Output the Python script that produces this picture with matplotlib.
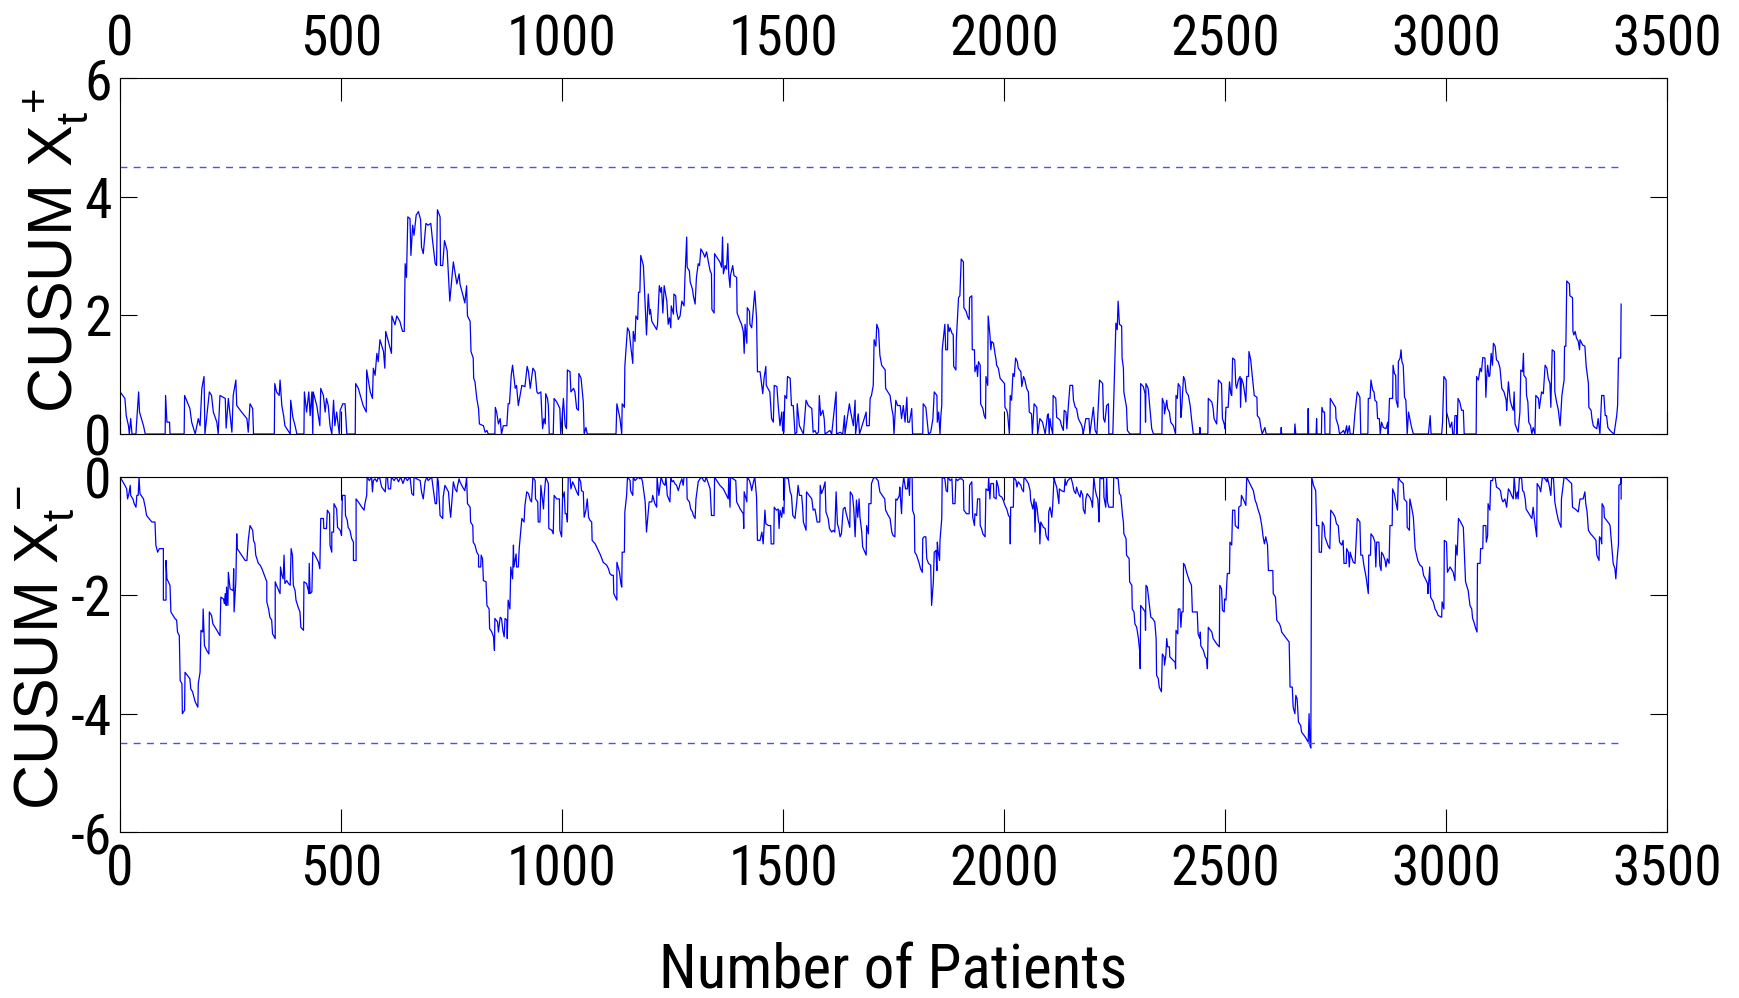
import numpy as np
import matplotlib
matplotlib.use("Agg")
import matplotlib.pyplot as plt

plt.rcParams['font.family'] = ['Roboto Condensed', 'Liberation Sans', 'DejaVu Sans']
plt.rcParams['axes.unicode_minus'] = False
plt.rcParams['mathtext.fontset'] = 'custom'
plt.rcParams['mathtext.rm'] = 'Liberation Sans'
plt.rcParams['mathtext.it'] = 'Liberation Sans'
plt.rcParams['mathtext.bf'] = 'Liberation Sans:bold'

# upper CUSUM (patient number, value)
upper_points = [
    (0, 0.71), (11, 0.60), (14, 0.31), (19, 0.14), (21, 0), (24, 0.26), (27, 0), (36, 0), (37, 0.14),
    (42, 0.71), (44, 0.37), (53, 0.14), (57, 0), (102, 0), (103, 0.65), (106, 0.2), (112, 0.2), (113, 0),
    (145, 0), (146, 0.65), (158, 0.43), (162, 0.2), (170, 0), (177, 0.26), (181, 0.14), (185, 0.77),
    (190, 0.97), (192, 0), (202, 0.71), (207, 0.65), (211, 0.37), (219, 0.2), (222, 0), (226, 0.65),
    (238, 0.60), (240, 0.1), (245, 0.6), (253, 0.03), (256, 0.65), (262, 0.91), (264, 0.48), (275, 0.37),
    (287, 0.26), (290, 0.03), (294, 0.51), (300, 0.43), (302, 0), (349, 0), (350, 0.85), (354, 0.71),
    (360, 0.65), (362, 0.91), (366, 0.48), (370, 0.31), (373, 0.14), (385, 0), (386, 0.57), (391, 0.28),
    (396, 0.14), (400, 0), (416, 0), (417, 0.71), (422, 0.37), (427, 0.71), (430, 0.31), (434, 0.71),
    (436, 0), (437, 0.71), (445, 0.48), (452, 0.14), (454, 0.77), (460, 0.65), (464, 0.37), (467, 0.6),
    (471, 0.48), (475, 0.14), (479, 0), (483, 0.57), (486, 0.14), (490, 0.37), (496, 0), (498, 0.40),
    (504, 0.51), (509, 0.51), (513, 0), (532, 0), (533, 0.85), (539, 0.77), (550, 0.48), (557, 0.37),
    (558, 1.08), (566, 0.71), (571, 0.6), (573, 1.11), (577, 0.99), (581, 1.36), (584, 1.22), (588, 1.59),
    (596, 1.39), (599, 1.11), (601, 1.73), (614, 1.36), (615, 1.99), (622, 1.84), (626, 1.99), (633, 1.90),
    (639, 1.73), (643, 1.73), (645, 2.87), (648, 2.64), (651, 3.66), (656, 3.63), (658, 3.01), (662, 3.52),
    (665, 3.35), (670, 3.69), (675, 3.75), (680, 3.61), (682, 3.15), (686, 3.04), (692, 3.55), (697, 3.52),
    (703, 3.55), (707, 3.26), (713, 2.87), (716, 2.84), (718, 3.78), (724, 3.66), (725, 2.84), (730, 2.84),
    (734, 3.26), (740, 3.09), (746, 2.24), (754, 2.90), (762, 2.53), (767, 2.70), (769, 2.53), (775, 2.36),
    (780, 2.21), (784, 2.50), (786, 1.99), (792, 1.90), (794, 1.39), (799, 1.28), (800, 0.94), (803, 0.88),
    (807, 0.60), (811, 0.43), (813, 0.17), (822, 0.14), (826, 0.03), (830, 0.06), (833, 0), (848, 0),
    (849, 0.45), (852, 0.37), (856, 0.17), (860, 0.26), (863, 0), (867, 0.14), (875, 0.14), (878, 0.51),
    (881, 0.51), (885, 0.99), (888, 1.16), (894, 0.77), (897, 0.82), (901, 0.48), (909, 0.82), (916, 0.80),
    (921, 1.14), (924, 1.05), (928, 0.77), (934, 1.11), (939, 1.05), (943, 0.71), (946, 0.68), (952, 0.71),
    (954, 0.37), (956, 0.09), (959, 0.26), (962, 0.17), (963, 0.68), (967, 0.6), (969, 0.48), (971, 0),
    (980, 0), (982, 0.6), (988, 0.54), (995, 0.43), (997, 0), (1001, 0.37), (1003, 0.6), (1007, 0.14),
    (1010, 0.09), (1012, 1.08), (1018, 1.05), (1020, 0.71), (1026, 0.77), (1029, 0.71), (1033, 0.43),
    (1037, 0.40), (1038, 1.02), (1043, 0.94), (1048, 0.54), (1050, 0), (1054, 0.11), (1057, 0), (1122, 0),
    (1124, 0.51), (1131, 0.26), (1135, 0), (1136, 0.51), (1141, 0.45), (1142, 1.14), (1148, 1.79),
    (1152, 1.73), (1155, 1.50), (1160, 1.19), (1161, 1.73), (1165, 1.56), (1167, 1.99), (1171, 1.93),
    (1173, 2.39), (1176, 2.39), (1178, 3.01), (1184, 2.84), (1188, 2.19), (1191, 1.67), (1195, 2.36),
    (1198, 2.02), (1200, 2.10), (1203, 1.90), (1214, 1.76), (1216, 1.85), (1220, 2.50), (1223, 2.39),
    (1225, 2.47), (1228, 2.04), (1231, 2.50), (1237, 2.24), (1240, 1.85), (1243, 1.96), (1246, 1.79),
    (1247, 2.16), (1252, 2.02), (1253, 2.36), (1257, 2.33), (1259, 2.07), (1263, 1.93), (1267, 1.99),
    (1271, 2.24), (1276, 2.16), (1278, 2.64), (1282, 3.32), (1283, 2.81), (1288, 2.75), (1290, 2.56),
    (1295, 2.44), (1297, 2.33), (1301, 2.19), (1304, 2.64), (1308, 2.87), (1311, 2.84), (1314, 3.12),
    (1320, 3.04), (1323, 2.98), (1327, 3.07), (1331, 2.90), (1335, 2.75), (1338, 2.70), (1339, 2.10),
    (1344, 2.04), (1345, 3.04), (1350, 2.98), (1357, 2.90), (1361, 2.81), (1363, 3.32), (1365, 2.70),
    (1369, 2.84), (1372, 2.78), (1375, 3.21), (1377, 2.70), (1380, 2.47), (1381, 2.67), (1386, 2.84),
    (1389, 2.67), (1395, 2.64), (1396, 2.04), (1403, 1.90), (1406, 1.85), (1410, 1.73), (1412, 1.36),
    (1414, 1.85), (1418, 1.53), (1419, 2.13), (1424, 2.07), (1425, 1.85), (1429, 1.79), (1436, 2.41),
    (1440, 1.96), (1442, 1.05), (1448, 1.05), (1454, 0.68), (1457, 0.94), (1461, 1.14), (1462, 0.82),
    (1470, 0.71), (1474, 0.26), (1478, 0.20), (1480, 0.82), (1486, 0.80), (1489, 0.48), (1493, 0.14),
    (1497, 0.37), (1499, 0.06), (1502, 0.03), (1504, 0.65), (1508, 0.60), (1510, 0.97), (1516, 0.94),
    (1519, 0.48), (1523, 0.48), (1527, 0), (1531, 0.03), (1532, 0.51), (1537, 0.14), (1546, 0),
    (1552, 0.57), (1557, 0.48), (1565, 0.43), (1568, 0.03), (1572, 0.06), (1576, 0), (1580, 0.03),
    (1582, 0.65), (1585, 0.31), (1590, 0.40), (1593, 0.26), (1595, 0), (1606, 0.06), (1610, 0),
    (1620, 0.71), (1621, 0), (1629, 0.03), (1635, 0), (1639, 0.31), (1640, 0), (1650, 0.51), (1653, 0.37),
    (1659, 0.14), (1663, 0.57), (1664, 0), (1670, 0.34), (1673, 0), (1688, 0.37), (1689, 0.14),
    (1695, 0.14), (1697, 0.60), (1700, 0.65), (1704, 0.82), (1706, 1.59), (1710, 1.48), (1712, 1.85),
    (1716, 1.76), (1719, 1.33), (1723, 1.16), (1731, 1.08), (1732, 0.77), (1742, 0.65), (1746, 0.43),
    (1749, 0.31), (1751, 0), (1755, 0.57), (1759, 0.48), (1765, 0.48), (1768, 0.26), (1772, 0.48),
    (1776, 0.20), (1780, 0.62), (1782, 0.20), (1786, 0.20), (1791, 0.43), (1793, 0), (1816, 0),
    (1817, 0.51), (1823, 0.45), (1829, 0), (1834, 0.03), (1839, 0.26), (1842, 0.71), (1848, 0.65),
    (1849, 0.20), (1852, 0.37), (1855, 0), (1857, 0.31), (1859, 0.48), (1860, 1.42), (1866, 1.85),
    (1868, 1.42), (1872, 1.42), (1873, 1.85), (1876, 1.73), (1878, 1.79), (1882, 1.70), (1885, 1.67),
    (1886, 1.14), (1891, 1.08), (1892, 1.59), (1893, 1.73), (1897, 2.30), (1900, 2.33), (1903, 2.95),
    (1908, 2.90), (1909, 2.13), (1914, 2.07), (1917, 1.99), (1921, 1.93), (1922, 2.30), (1927, 2.33),
    (1928, 1.42), (1933, 1.42), (1934, 1.05), (1938, 1.16), (1940, 0.97), (1942, 1.22), (1946, 1.16),
    (1947, 0.51), (1952, 0.43), (1955, 0.31), (1958, 0.26), (1959, 0.97), (1963, 0.82), (1964, 1.99),
    (1968, 1.67), (1970, 1.42), (1972, 1.56), (1976, 1.53), (1980, 1.33), (1982, 1.25), (1983, 1.16),
    (1987, 1.11), (1991, 0.94), (2001, 0.85), (2002, 0.45), (2006, 0.40), (2008, 0.34), (2012, 0),
    (2014, 0.65), (2017, 0.57), (2020, 1.02), (2023, 0.97), (2026, 1.28), (2030, 1.22), (2032, 1.11),
    (2038, 1.05), (2040, 0.80), (2044, 0.97), (2047, 0.91), (2051, 0.77), (2055, 0.71), (2057, 0.37),
    (2062, 0.34), (2064, 0), (2068, 0.51), (2074, 0.45), (2076, 0), (2081, 0.26), (2087, 0.20), (2093, 0),
    (2098, 0.31), (2100, 0.34), (2102, 0), (2104, 0.26), (2106, 0.14), (2110, 0), (2111, 0.65),
    (2117, 0.60), (2119, 0.28), (2123, 0.26), (2127, 0.23), (2130, 0.14), (2134, 0.06), (2136, 0.40),
    (2140, 0.37), (2142, 0.09), (2145, 0.43), (2149, 0.82), (2155, 0.82), (2157, 0.57), (2161, 0.45),
    (2164, 0.43), (2168, 0.26), (2172, 0.20), (2176, 0.14), (2178, 0.06), (2179, 0), (2185, 0.26),
    (2192, 0.26), (2194, 0), (2202, 0.45), (2206, 0.06), (2210, 0), (2216, 0.91), (2223, 0.85),
    (2225, 0.26), (2228, 0.20), (2232, 0.48), (2236, 0.51), (2237, 0), (2246, 0), (2253, 1.87),
    (2256, 1.76), (2258, 2.24), (2261, 1.85), (2266, 1.82), (2267, 1.28), (2270, 1.11), (2271, 0.71),
    (2277, 0.45), (2279, 0.06), (2285, 0), (2308, 0), (2309, 0.85), (2315, 0.80), (2319, 0.68),
    (2320, 0.20), (2321, 0.85), (2326, 0.77), (2330, 0.43), (2334, 0.09), (2338, 0), (2357, 0),
    (2358, 0.60), (2362, 0.51), (2363, 0.34), (2368, 0.57), (2370, 0.43), (2374, 0.37), (2377, 0.20),
    (2383, 0.14), (2388, 0), (2389, 0.65), (2392, 0.60), (2394, 0.85), (2398, 0.80), (2400, 0.28),
    (2402, 0.45), (2406, 0.97), (2409, 0.91), (2412, 0.71), (2417, 0.65), (2421, 0.48), (2424, 0.26),
    (2428, 0), (2442, 0), (2443, 0.11), (2444, 0), (2461, 0), (2462, 0.60), (2470, 0.54), (2473, 0.43),
    (2475, 0.26), (2481, 0.17), (2485, 0.91), (2492, 0.85), (2494, 0.26), (2498, 0.17), (2500, 0.09),
    (2502, 0.45), (2507, 0.45), (2510, 0.88), (2513, 0.68), (2515, 0.65), (2517, 1.28), (2522, 1.25),
    (2524, 0.85), (2526, 0.77), (2530, 0.91), (2534, 0.97), (2535, 0.45), (2537, 0.94), (2541, 0.85),
    (2544, 0.71), (2547, 0.54), (2549, 0.97), (2553, 0.97), (2554, 1.39), (2558, 1.25), (2562, 0.94),
    (2566, 0.65), (2572, 0.62), (2573, 0.31), (2578, 0.26), (2581, 0.11), (2584, 0), (2590, 0.11),
    (2593, 0), (2626, 0), (2627, 0.11), (2628, 0), (2657, 0), (2658, 0.17), (2660, 0), (2687, 0),
    (2688, 0.43), (2689, 0), (2706, 0), (2707, 0.26), (2708, 0), (2718, 0), (2719, 0.45), (2722, 0.37),
    (2725, 0.37), (2726, 0), (2737, 0), (2738, 0.60), (2745, 0.51), (2750, 0.45), (2751, 0.26),
    (2756, 0.14), (2759, 0), (2764, 0.03), (2768, 0.06), (2771, 0), (2775, 0.14), (2777, 0), (2781, 0.14),
    (2783, 0), (2790, 0), (2794, 0.37), (2799, 0.71), (2805, 0.62), (2807, 0), (2823, 0), (2824, 0.60),
    (2828, 0.60), (2830, 0.91), (2834, 0.74), (2837, 0.71), (2839, 0.57), (2843, 0.54), (2845, 0.26),
    (2849, 0.26), (2851, 0), (2854, 0.20), (2858, 0.11), (2864, 0.09), (2868, 0.20), (2869, 0),
    (2872, 0.60), (2879, 0.60), (2880, 1.16), (2883, 1.02), (2886, 0.99), (2887, 0.57), (2891, 0.45),
    (2892, 1.22), (2896, 1.28), (2898, 1.42), (2900, 1.22), (2903, 1.16), (2906, 0.62), (2909, 0.57),
    (2912, 0), (2915, 0.37), (2918, 0.26), (2922, 0.11), (2926, 0), (2960, 0), (2964, 0.31), (2966, 0),
    (2990, 0), (2992, 0.20), (2995, 0.97), (3000, 0.91), (3001, 0.37), (3005, 0.26), (3009, 0.11),
    (3013, 0.20), (3015, 0), (3018, 0), (3020, 0.31), (3024, 0.31), (3025, 0), (3027, 0.60), (3031, 0.54),
    (3035, 0.40), (3039, 0.40), (3041, 0), (3068, 0), (3069, 0.97), (3073, 0.91), (3077, 1.11),
    (3080, 1.05), (3083, 1.29), (3088, 1.28), (3090, 0.62), (3092, 0.97), (3094, 1.16), (3097, 0.97),
    (3099, 0.99), (3102, 1.36), (3105, 1.16), (3107, 1.53), (3111, 1.48), (3114, 1.25), (3118, 1.22),
    (3122, 1.11), (3126, 0.77), (3131, 0.71), (3136, 0.57), (3137, 0.40), (3141, 0.88), (3145, 0.57),
    (3148, 0.48), (3152, 0.40), (3154, 0.71), (3156, 0.17), (3160, 0.09), (3163, 0.03), (3167, 0.37),
    (3169, 1.08), (3173, 1.05), (3175, 1.36), (3176, 0.99), (3181, 0.94), (3182, 0.65), (3185, 0.54),
    (3187, 0.20), (3191, 0.14), (3194, 0), (3197, 0.11), (3201, 0), (3203, 0.65), (3209, 0.60),
    (3211, 0.43), (3216, 0.71), (3220, 0.68), (3224, 1.16), (3228, 1.11), (3231, 0.94), (3235, 0.85),
    (3237, 0.45), (3240, 1.42), (3245, 1.39), (3246, 0.71), (3250, 0.54), (3254, 0.40), (3258, 0.14),
    (3262, 0.65), (3267, 0.91), (3268, 1.48), (3271, 1.48), (3273, 2.58), (3279, 2.53), (3280, 2.33),
    (3286, 2.30), (3287, 1.73), (3289, 1.67), (3292, 1.73), (3295, 1.62), (3299, 1.56), (3302, 1.42),
    (3303, 1.59), (3309, 1.50), (3314, 1.48), (3317, 1.14), (3322, 0.85), (3323, 0.45), (3328, 0.40),
    (3330, 0.26), (3333, 0.14), (3337, 0.11), (3341, 0.09), (3344, 0.26), (3348, 0), (3352, 0.65),
    (3357, 0.65), (3360, 0.31), (3363, 0.31), (3366, 0.11), (3371, 0.06), (3375, 0.03), (3380, 0),
    (3386, 0.31), (3388, 0.48), (3390, 1.28), (3395, 1.28), (3396, 2.19),
]

# lower CUSUM (patient number, value)
lower_points = [
    (0, 0), (11, -0.14), (15, -0.20), (17, -0.37), (20, -0.28), (23, -0.14), (24, -0.31), (29, -0.37),
    (32, -0.45), (36, -0.51), (38, -0.31), (41, -0.31), (43, 0), (45, -0.28), (53, -0.37), (57, -0.51),
    (60, -0.65), (72, -0.76), (79, -0.76), (81, -1.15), (85, -1.27), (89, -1.21), (98, -1.21), (98, -2.08),
    (104, -2.08), (104, -1.41), (106, -1.72), (113, -1.83), (115, -2.28), (124, -2.39), (128, -2.42),
    (130, -2.62), (134, -2.68), (136, -3.44), (140, -3.49), (141, -4.00), (146, -3.94), (147, -3.30),
    (152, -3.35), (158, -3.41), (160, -3.58), (164, -3.63), (170, -3.80), (176, -3.89), (177, -3.49),
    (181, -3.30), (183, -2.59), (187, -2.62), (188, -2.23), (191, -2.85), (196, -2.93), (201, -2.99),
    (202, -2.28), (207, -2.34), (210, -2.48), (219, -2.59), (226, -2.68), (228, -2.03), (234, -2.06),
    (236, -2.14), (238, -1.97), (240, -2.17), (241, -1.86), (244, -2.17), (245, -1.61), (249, -1.89),
    (256, -1.92), (257, -1.55), (258, -2.28), (262, -1.75), (264, -0.96), (265, -1.21), (275, -1.32),
    (283, -1.41), (287, -1.41), (290, -1.07), (294, -0.82), (300, -0.90), (302, -1.07), (305, -1.13),
    (307, -1.32), (313, -1.46), (317, -1.49), (321, -1.55), (324, -1.61), (328, -1.69), (332, -1.77),
    (332, -2.11), (336, -2.23), (339, -2.37), (343, -2.42), (345, -2.65), (351, -2.73), (351, -1.77),
    (354, -1.83), (362, -1.97), (363, -1.52), (366, -1.66), (369, -1.72), (371, -1.32), (373, -1.80),
    (377, -1.75), (381, -1.80), (385, -1.83), (387, -1.21), (390, -1.32), (392, -1.83), (396, -1.92),
    (398, -2.08), (403, -2.20), (407, -2.28), (409, -2.54), (415, -2.59), (416, -1.77), (422, -1.80),
    (426, -1.92), (427, -1.97), (428, -1.46), (430, -1.97), (434, -1.94), (436, -1.27), (441, -1.32),
    (449, -1.44), (452, -1.55), (454, -0.70), (460, -0.70), (461, -0.87), (467, -0.87), (469, -0.56),
    (474, -0.62), (475, -1.15), (479, -1.27), (479, -0.93), (483, -0.93), (484, -0.45), (490, -0.54),
    (492, -0.85), (498, -0.90), (501, -0.99), (503, -0.31), (509, -0.31), (510, -0.65), (514, -0.73),
    (516, -0.85), (520, -0.90), (524, -1.04), (528, -1.10), (528, -1.41), (534, -1.41), (534, -0.37),
    (539, -0.42), (547, -0.51), (552, -0.56), (554, -0.45), (558, -0.31), (559, 0), (564, -0.06),
    (569, 0), (571, -0.25), (573, -0.06), (577, -0.03), (581, -0.08), (583, -0.03), (587, 0), (590, -0.11),
    (592, -0.17), (600, -0.25), (602, 0), (605, 0), (607, -0.20), (612, -0.20), (614, 0), (620, -0.06),
    (625, 0), (630, -0.08), (635, 0), (640, -0.11), (645, 0), (650, -0.06), (656, 0), (660, -0.28),
    (664, -0.31), (665, 0), (671, -0.03), (679, -0.06), (682, -0.25), (686, -0.37), (690, -0.08),
    (694, 0), (697, -0.06), (705, 0), (709, -0.23), (713, -0.45), (716, -0.45), (718, 0), (720, -0.08),
    (724, -0.65), (730, -0.70), (731, -0.34), (735, -0.14), (743, -0.25), (746, -0.54), (748, -0.68),
    (754, -0.08), (758, -0.20), (762, -0.25), (763, -0.17), (767, -0.03), (769, -0.08), (775, -0.17),
    (780, -0.23), (783, -0.08), (784, 0), (786, -0.45), (792, -0.51), (793, -0.76), (798, -0.82),
    (799, -1.10), (803, -1.15), (807, -1.27), (811, -1.32), (811, -1.52), (816, -1.52), (817, -1.32),
    (820, -1.38), (822, -1.75), (828, -1.77), (830, -2.17), (835, -2.23), (836, -2.56), (841, -2.62),
    (845, -2.70), (847, -2.93), (848, -2.39), (854, -2.45), (856, -2.62), (860, -2.37), (863, -2.39),
    (866, -2.59), (869, -2.70), (871, -2.39), (875, -2.42), (876, -2.73), (878, -2.08), (882, -2.23),
    (884, -1.52), (888, -1.72), (890, -1.15), (891, -1.52), (896, -1.30), (897, -1.52), (901, -1.52),
    (903, -1.21), (909, -0.70), (914, -0.76), (916, -0.48), (920, -0.25), (924, -0.28), (928, -0.39),
    (931, -0.42), (934, 0), (939, -0.06), (940, -0.37), (945, -0.42), (946, -0.76), (950, -0.76),
    (952, -0.14), (958, -0.54), (959, -0.37), (963, 0), (969, -0.11), (970, -0.87), (977, -0.90),
    (980, -0.96), (982, -0.31), (988, -0.37), (994, -0.37), (995, -0.90), (999, -1.01), (1001, -0.37),
    (1005, -0.25), (1007, -0.62), (1010, -0.62), (1012, -0.76), (1014, 0), (1018, 0), (1020, -0.20),
    (1024, -0.08), (1029, -0.17), (1033, -0.25), (1037, -0.31), (1038, 0), (1042, -0.08), (1044, -0.23),
    (1048, -0.25), (1050, -0.68), (1054, -0.56), (1057, -0.37), (1060, -0.68), (1063, -0.73),
    (1067, -0.76), (1068, -1.07), (1075, -1.13), (1080, -1.21), (1084, -1.27), (1087, -1.32),
    (1090, -1.38), (1093, -1.44), (1101, -1.49), (1105, -1.55), (1108, -1.63), (1112, -1.66),
    (1116, -1.66), (1117, -1.97), (1124, -2.08), (1124, -1.44), (1130, -1.61), (1133, -1.80),
    (1135, -1.86), (1136, -1.27), (1141, -1.27), (1142, -0.59), (1146, -0.31), (1148, 0), (1154, -0.06),
    (1155, -0.23), (1160, -0.31), (1161, 0), (1165, -0.06), (1169, -0.03), (1173, 0), (1176, -0.03),
    (1179, 0), (1182, -0.08), (1188, -0.42), (1191, -0.93), (1197, -0.42), (1203, -0.42), (1205, -0.31),
    (1210, -0.45), (1214, -0.51), (1215, 0), (1219, -0.31), (1224, 0), (1229, -0.11), (1233, -0.14),
    (1235, 0), (1238, -0.31), (1244, -0.42), (1246, 0), (1249, -0.08), (1252, -0.06), (1255, -0.11),
    (1259, -0.14), (1263, -0.23), (1267, -0.11), (1271, -0.03), (1274, -0.14), (1276, 0), (1282, 0),
    (1283, -0.37), (1288, -0.42), (1291, -0.54), (1295, -0.59), (1297, -0.65), (1301, -0.70),
    (1303, -0.37), (1308, -0.08), (1312, -0.03), (1316, 0), (1320, -0.06), (1323, -0.08), (1326, 0),
    (1331, -0.11), (1335, -0.20), (1338, -0.65), (1344, -0.65), (1345, 0), (1350, -0.06), (1357, -0.14),
    (1365, -0.20), (1372, -0.31), (1376, -0.37), (1377, 0), (1380, -0.51), (1381, 0), (1387, -0.03),
    (1393, -0.06), (1395, -0.42), (1399, -0.48), (1403, -0.54), (1410, -0.62), (1411, -0.87),
    (1412, -0.25), (1418, -0.42), (1419, 0), (1424, -0.06), (1427, -0.14), (1429, -0.23), (1433, -0.08),
    (1436, 0), (1440, -0.34), (1442, -1.07), (1448, -1.07), (1452, -0.93), (1455, -1.13), (1459, -0.56),
    (1461, -0.79), (1467, -0.82), (1472, -0.82), (1473, -1.13), (1479, -1.13), (1480, -0.51),
    (1485, -0.56), (1489, -0.54), (1491, -0.87), (1493, -0.56), (1497, -0.68), (1499, -0.51),
    (1502, -0.62), (1504, 0), (1512, -0.03), (1516, -0.25), (1519, -0.31), (1522, -0.65), (1527, -0.70),
    (1531, -0.42), (1534, -0.14), (1537, -0.31), (1542, -0.31), (1544, -0.48), (1546, -0.76),
    (1552, -0.90), (1553, -0.25), (1559, -0.31), (1565, -0.37), (1568, -0.56), (1572, -0.54),
    (1574, -0.62), (1577, -0.76), (1583, -0.76), (1584, -0.14), (1587, -0.28), (1591, -0.20),
    (1595, -0.08), (1597, -0.59), (1602, -0.70), (1605, -0.87), (1610, -0.93), (1614, -0.90),
    (1617, -0.93), (1620, -0.25), (1623, -0.79), (1626, -0.87), (1629, -1.01), (1632, -0.96),
    (1636, -0.54), (1640, -0.51), (1642, -0.59), (1648, -0.76), (1651, -0.85), (1652, -0.25),
    (1657, -0.31), (1660, -0.54), (1663, -1.01), (1666, -0.39), (1669, -0.68), (1672, -0.37),
    (1674, -0.68), (1678, -0.93), (1680, -1.18), (1685, -1.27), (1688, -1.32), (1689, -0.82),
    (1693, -0.96), (1694, -0.45), (1699, -0.45), (1700, -0.11), (1704, -0.03), (1708, 0), (1715, -0.06),
    (1719, -0.25), (1727, -0.34), (1730, -0.37), (1732, -0.56), (1738, -0.65), (1742, -0.70),
    (1746, -0.93), (1749, -0.99), (1753, -1.01), (1755, -0.37), (1758, -0.39), (1763, -0.31),
    (1764, -0.17), (1768, -0.62), (1770, -0.20), (1773, 0), (1777, -0.20), (1781, -0.20), (1783, 0),
    (1786, -0.31), (1787, 0), (1792, 0), (1793, -0.56), (1797, -0.65), (1798, -1.27), (1802, -1.32),
    (1806, -1.41), (1808, -1.46), (1811, -1.55), (1815, -1.61), (1816, -1.04), (1819, -1.01),
    (1823, -1.01), (1825, -1.38), (1829, -1.46), (1834, -1.49), (1836, -2.17), (1840, -1.77),
    (1842, -1.27), (1846, -1.24), (1848, -1.58), (1849, -1.10), (1851, -1.27), (1854, -1.41),
    (1855, -1.07), (1859, -0.70), (1860, 0), (1866, -0.03), (1869, -0.23), (1872, -0.25), (1873, 0),
    (1878, -0.06), (1882, -0.03), (1884, -0.45), (1889, -0.45), (1891, -0.03), (1895, -0.06),
    (1899, -0.03), (1904, -0.03), (1908, -0.06), (1909, -0.56), (1915, -0.62), (1921, -0.62),
    (1922, -0.14), (1927, -0.08), (1929, -0.68), (1933, -0.82), (1934, -0.62), (1938, -0.65),
    (1940, -0.37), (1945, -0.37), (1946, -0.82), (1949, -0.87), (1952, -0.96), (1957, -1.01),
    (1959, -0.20), (1964, -0.23), (1965, 0), (1968, -0.37), (1970, -0.11), (1976, -0.11), (1977, -0.34),
    (1982, -0.37), (1983, -0.06), (1987, -0.17), (1989, -0.31), (1995, -0.34), (1998, -0.39),
    (2002, -0.48), (2006, -0.54), (2010, -0.65), (2013, -0.68), (2014, -1.13), (2015, -0.51),
    (2021, -0.51), (2022, 0), (2027, -0.06), (2029, -0.17), (2032, -0.08), (2038, -0.14), (2040, -0.20),
    (2044, -0.25), (2045, 0), (2051, -0.06), (2055, -0.11), (2059, -0.23), (2060, -0.39), (2065, -0.54),
    (2068, -0.37), (2070, -0.93), (2072, -0.42), (2075, -0.54), (2078, -0.76), (2080, -0.79),
    (2081, -1.13), (2083, -0.76), (2089, -0.85), (2093, -0.87), (2095, -0.99), (2100, -1.07),
    (2101, -0.59), (2104, -0.51), (2108, -0.68), (2110, -0.48), (2113, 0), (2115, -0.08), (2119, -0.17),
    (2124, -0.45), (2125, -0.20), (2130, -0.23), (2136, -0.25), (2138, -0.03), (2140, -0.14),
    (2144, -0.06), (2148, -0.03), (2151, 0), (2155, -0.11), (2158, -0.23), (2162, -0.28), (2164, -0.17),
    (2168, -0.28), (2172, -0.34), (2174, -0.23), (2178, -0.31), (2179, -0.54), (2183, -0.62),
    (2185, -0.37), (2188, -0.28), (2194, -0.34), (2198, -0.42), (2200, -0.51), (2203, 0), (2206, -0.20),
    (2209, -0.31), (2212, -0.37), (2213, -0.48), (2215, -0.76), (2217, 0), (2221, -0.03), (2225, 0),
    (2226, -0.34), (2230, -0.51), (2232, 0), (2234, -0.42), (2237, -0.51), (2247, -0.51), (2248, 0),
    (2258, -0.03), (2261, -0.28), (2264, -0.31), (2268, -0.65), (2270, -0.76), (2271, -0.96),
    (2276, -1.04), (2277, -1.32), (2283, -1.38), (2284, -1.77), (2289, -1.83), (2290, -2.23),
    (2294, -2.28), (2296, -2.48), (2300, -2.54), (2304, -2.73), (2307, -2.96), (2308, -3.24),
    (2309, -2.17), (2315, -2.23), (2319, -2.28), (2320, -2.59), (2321, -1.83), (2324, -1.86),
    (2328, -2.11), (2332, -2.37), (2336, -2.39), (2341, -2.45), (2344, -2.73), (2345, -3.35),
    (2349, -3.41), (2351, -3.55), (2356, -3.63), (2358, -2.99), (2362, -3.04), (2363, -3.18),
    (2366, -3.01), (2368, -2.73), (2370, -2.87), (2374, -2.87), (2375, -3.04), (2383, -3.10),
    (2387, -3.13), (2388, -3.24), (2389, -2.59), (2393, -2.65), (2394, -2.23), (2398, -2.23),
    (2400, -2.54), (2402, -2.28), (2405, -2.28), (2406, -1.46), (2409, -1.49), (2413, -1.61),
    (2419, -1.75), (2424, -1.83), (2426, -2.28), (2432, -2.28), (2437, -2.28), (2439, -2.65),
    (2443, -2.73), (2444, -2.62), (2445, -2.85), (2451, -2.93), (2455, -3.04), (2458, -3.07),
    (2460, -3.24), (2462, -2.54), (2470, -2.62), (2473, -2.73), (2481, -2.82), (2487, -2.87),
    (2488, -1.83), (2492, -1.89), (2494, -2.25), (2498, -2.28), (2499, -2.06), (2502, -2.08),
    (2505, -1.63), (2510, -1.63), (2511, -1.10), (2515, -1.15), (2517, -0.56), (2522, -0.56),
    (2523, -0.82), (2530, -0.87), (2531, -0.51), (2536, -0.48), (2537, -0.31), (2541, -0.37),
    (2547, -0.48), (2549, 0), (2556, -0.11), (2564, -0.23), (2568, -0.39), (2571, -0.45), (2575, -0.56),
    (2579, -0.65), (2583, -0.82), (2586, -1.01), (2589, -1.13), (2592, -1.01), (2596, -1.15),
    (2598, -1.58), (2608, -1.58), (2609, -1.97), (2614, -2.03), (2617, -2.42), (2623, -2.48),
    (2626, -2.54), (2628, -2.62), (2636, -2.70), (2645, -2.79), (2647, -3.55), (2652, -3.55),
    (2654, -3.89), (2658, -4.00), (2660, -3.69), (2663, -3.75), (2666, -4.14), (2671, -4.20),
    (2673, -4.31), (2681, -4.39), (2688, -4.48), (2690, -4.00), (2692, -4.54), (2694, -4.58), (2696, 0),
    (2700, -0.14), (2705, -0.23), (2707, -0.82), (2712, -0.82), (2713, -1.27), (2718, -1.27),
    (2720, -0.76), (2724, -0.82), (2726, -1.01), (2730, -1.10), (2734, -1.18), (2737, -1.21),
    (2739, -0.56), (2745, -0.62), (2749, -0.68), (2752, -0.79), (2756, -0.82), (2759, -1.10),
    (2764, -1.15), (2767, -1.07), (2769, -1.46), (2774, -1.46), (2775, -1.21), (2779, -1.27),
    (2781, -1.52), (2783, -1.27), (2786, -1.35), (2790, -1.44), (2794, -1.46), (2799, -0.70),
    (2805, -0.76), (2807, -1.32), (2811, -1.32), (2814, -1.49), (2819, -1.69), (2824, -1.97),
    (2825, -1.32), (2829, -1.32), (2830, -0.96), (2835, -1.01), (2839, -1.10), (2841, -1.52),
    (2843, -1.10), (2848, -1.10), (2850, -1.49), (2853, -1.58), (2854, -1.27), (2858, -1.32),
    (2862, -1.41), (2864, -1.52), (2867, -1.38), (2871, -1.46), (2873, -0.82), (2878, -0.82),
    (2879, -0.20), (2883, -0.28), (2887, -0.45), (2890, -0.56), (2892, 0), (2896, -0.06), (2903, -0.11),
    (2905, -0.37), (2911, -0.42), (2912, -0.85), (2917, -0.90), (2918, -0.37), (2922, -0.51),
    (2926, -0.68), (2930, -1.21), (2936, -1.41), (2941, -1.49), (2946, -1.52), (2949, -1.66),
    (2955, -1.75), (2958, -1.80), (2959, -1.97), (2963, -1.52), (2965, -2.03), (2971, -2.11),
    (2975, -2.23), (2979, -2.28), (2982, -2.34), (2990, -2.37), (2991, -2.11), (2995, -2.23),
    (2996, -1.07), (3001, -1.10), (3003, -1.61), (3009, -1.52), (3016, -1.61), (3020, -1.75),
    (3022, -1.15), (3025, -1.32), (3028, -0.70), (3033, -0.76), (3039, -0.85), (3044, -1.77),
    (3050, -1.92), (3054, -2.17), (3058, -2.23), (3060, -2.39), (3063, -2.45), (3067, -2.56),
    (3070, -2.62), (3071, -1.46), (3077, -1.46), (3078, -1.21), (3083, -1.21), (3084, -0.82),
    (3090, -0.82), (3091, -1.10), (3094, -0.99), (3095, -0.45), (3099, -0.56), (3101, -0.06),
    (3105, -0.06), (3107, 0), (3111, 0), (3114, -0.17), (3120, -0.20), (3123, -0.23), (3126, -0.37),
    (3129, -0.42), (3133, -0.37), (3137, -0.51), (3141, -0.20), (3145, -0.25), (3148, -0.31),
    (3152, -0.37), (3154, 0), (3158, -0.37), (3161, -0.25), (3163, -0.37), (3166, 0), (3171, -0.03),
    (3173, -0.23), (3176, -0.25), (3179, -0.37), (3181, -0.54), (3185, -0.59), (3190, -0.65),
    (3194, -0.70), (3197, -0.51), (3200, -0.73), (3205, -1.01), (3206, -0.11), (3211, -0.17),
    (3214, -0.25), (3218, 0), (3224, -0.03), (3228, -0.08), (3229, 0), (3234, -0.17), (3237, -0.31),
    (3239, 0), (3243, -0.03), (3246, -0.42), (3250, -0.59), (3254, -0.73), (3260, -0.85), (3261, -0.37),
    (3267, 0), (3273, -0.03), (3284, -0.11), (3286, -0.51), (3292, -0.54), (3295, -0.56), (3299, -0.59),
    (3303, -0.37), (3310, -0.37), (3314, -0.25), (3316, -0.45), (3319, -0.59), (3322, -0.90),
    (3327, -0.96), (3333, -1.01), (3339, -1.07), (3341, -1.32), (3346, -1.41), (3347, -1.01),
    (3350, -1.04), (3352, -1.13), (3353, -0.45), (3357, -0.51), (3358, -0.68), (3363, -0.73),
    (3369, -0.79), (3371, -0.82), (3375, -1.18), (3378, -1.46), (3382, -1.55), (3384, -1.72),
    (3387, -1.38), (3390, -1.13), (3391, -0.14), (3395, -0.11), (3396, 0), (3396, -0.37),
]

upper_limit = 4.5
lower_limit = -4.5
limit_end = 3389
x_ticks = [0, 500, 1000, 1500, 2000, 2500, 3000, 3500]
upper_yticks = [0, 2, 4, 6]
lower_yticks = [-6, -4, -2, 0]

up_x, up_y = np.array(upper_points).T
lo_x, lo_y = np.array(lower_points).T

fig = plt.figure(figsize=(17.4, 9.98), dpi=100)
ax_up = fig.add_axes([0.0690, 0.5651, 0.8891, 0.3567])
ax_lo = fig.add_axes([0.0690, 0.1663, 0.8891, 0.3557])

line_kw = dict(color='#0000ff', linewidth=0.9)
limit_kw = dict(color='#4d4dff', linewidth=1.0, linestyle=(0, (5, 4.5)))

ax_up.plot(up_x, up_y, **line_kw)
ax_up.plot([0, limit_end], [upper_limit, upper_limit], **limit_kw)
ax_lo.plot(lo_x, lo_y, **line_kw)
ax_lo.plot([0, limit_end], [lower_limit, lower_limit], **limit_kw)

for ax in (ax_up, ax_lo):
    ax.set_xlim(0, 3500)
    ax.set_xticks(x_ticks)
    for side in ax.spines.values():
        side.set_linewidth(0.8)
    ax.tick_params(axis='both', direction='in', width=0.8, colors='black', labelsize=40,
                   top=True, bottom=True, left=True, right=True)
    ax.tick_params(axis='x', length=16.5)
    ax.tick_params(axis='y', length=12, pad=6)

ax_up.set_ylim(0, 6)
ax_up.set_yticks(upper_yticks)
ax_up.tick_params(axis='x', labeltop=True, labelbottom=False, pad=8)

ax_lo.set_ylim(-6, 0)
ax_lo.set_yticks(lower_yticks)
ax_lo.tick_params(axis='x', labeltop=False, labelbottom=True, pad=8)

# y labels with sub/superscripts
ax_up.set_ylabel(r'CUSUM $X_t^+$', family='Liberation Sans', fontsize=45, va='center')
ax_up.yaxis.set_label_coords(-0.042, 0.515)
ax_lo.set_ylabel(r'CUSUM $X_t^-$', family='Liberation Sans', fontsize=45, va='center')
ax_lo.yaxis.set_label_coords(-0.049, 0.52)

ax_lo.set_xlabel('Number of Patients', fontsize=44, va='baseline')
ax_lo.xaxis.set_label_coords(0.5, -0.44)

fig.savefig('out.png', dpi=100)
